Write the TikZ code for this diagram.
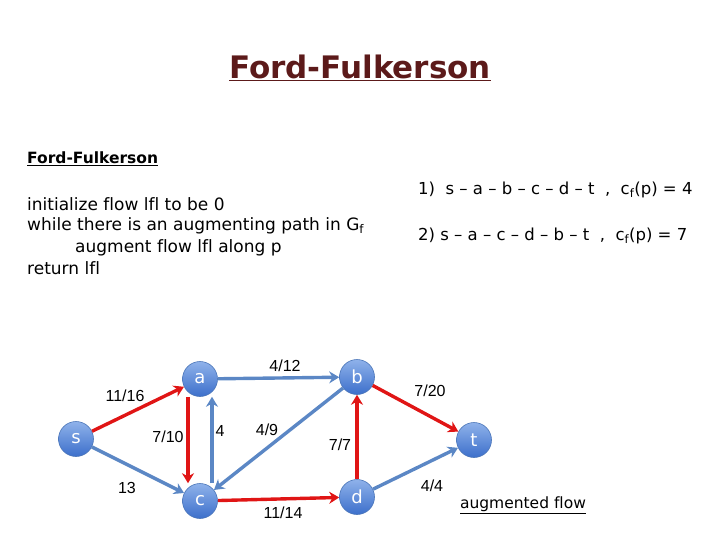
\documentclass[tikz,border=0pt]{standalone}
\usepackage{fontspec}
\setmainfont[Ligatures=NoCommon]{DejaVu Sans}
\newfontfamily\lblfont{Liberation Sans}
\usetikzlibrary{arrows.meta}
\definecolor{ered}{HTML}{E01515}
\definecolor{eblue}{HTML}{5B87C5}
\definecolor{ntop}{HTML}{8FB2EA}
\definecolor{nbot}{HTML}{3C6FCB}
\definecolor{nborder}{HTML}{4A75B8}
\definecolor{titlered}{HTML}{5C1A1A}
\tikzset{
  vert/.style={circle, minimum size=35pt, inner sep=0pt, draw=nborder, line width=0.6pt,
    top color=ntop, bottom color=nbot, text=white, font=\fontsize{18}{18}\selectfont},
  redge/.style={draw=ered, line width=3.4pt, -{Stealth[length=10pt,width=12pt]}},
  bedge/.style={draw=eblue, line width=3.4pt, -{Stealth[length=10pt,width=12pt]}},
  elabel/.style={font=\lblfont\fontsize{16}{16}\selectfont, text=black},
  txt/.style={anchor=west, font=\fontsize{17}{17}\selectfont, inner sep=0pt},
  ptxt/.style={anchor=west, font=\fontsize{16.5}{16.5}\selectfont, inner sep=0pt},
}
\begin{document}
\begin{tikzpicture}[x=1pt,y=-1pt]
\useasboundingbox (0,0) rectangle (720,540);
% title
\node[font=\bfseries\fontsize{31}{31}\selectfont, text=titlered] (title) at (360,68) {\underline{Ford-Fulkerson}};
% subtitle
\node[anchor=west, inner sep=0pt, font=\bfseries\fontsize{15.5}{15.5}\selectfont, text=black] (sub) at (27,159) {\underline{Ford-Fulkerson}};
% algorithm
\node[txt] (l1) at (27,204) {initialize flow lfl to be 0};
\node[txt] (l2) at (27,226) {while there is an augmenting path in G\textsubscript{f}};
\node[txt] (l3) at (75,248) {augment flow lfl along p};
\node[txt] (l4) at (27,268) {return lfl};
% paths
\node[ptxt] (p1) at (418,190) {1)\ \ s -- a -- b -- c -- d -- t\ \ ,\ \ c\textsubscript{f}(p) = 4};
\node[ptxt] (p2) at (418,236) {2)\ s -- a -- c -- d -- b -- t\ \ ,\ \ c\textsubscript{f}(p) = 7};
% vertices
\node[vert] (s) at (76,439) {s};
\node[vert] (a) at (200,379) {a};
\node[vert] (b) at (357,377) {b};
\node[vert] (c) at (200,501) {c};
\node[vert] (d) at (357,497) {d};
\node[vert] (t) at (474,440) {t};
% edges
\draw[redge] (s) -- (a);
\draw[bedge] (s) -- (c);
\draw[redge] ([xshift=-12pt]a.south) -- ([xshift=-12pt]c.north);
\draw[bedge] ([xshift=12pt]c.north) -- ([xshift=12pt]a.south);
\draw[bedge] (a) -- (b);
\draw[bedge] (b) -- (c);
\draw[redge] (c) -- (d);
\draw[redge] (d) -- (b);
\draw[redge] (b) -- (t);
\draw[bedge] (d) -- (t);
% labels
\node[elabel] (l116) at (125,396) {11/16};
\node[elabel] (l13) at (127,488) {13};
\node[elabel] (l710) at (168,437) {7/10};
\node[elabel] (l4) at (220,431) {4};
\node[elabel] (l412) at (285,366) {4/12};
\node[elabel] (l49) at (267,430) {4/9};
\node[elabel] (l1114) at (283,513) {11/14};
\node[elabel] (l77) at (340,445) {7/7};
\node[elabel] (l720) at (430,391) {7/20};
\node[elabel] (l44) at (432,486) {4/4};
\node[font=\fontsize{15.5}{15.5}\selectfont] (aug) at (523,505) {\underline{augmented flow}};
\end{tikzpicture}
\end{document}
